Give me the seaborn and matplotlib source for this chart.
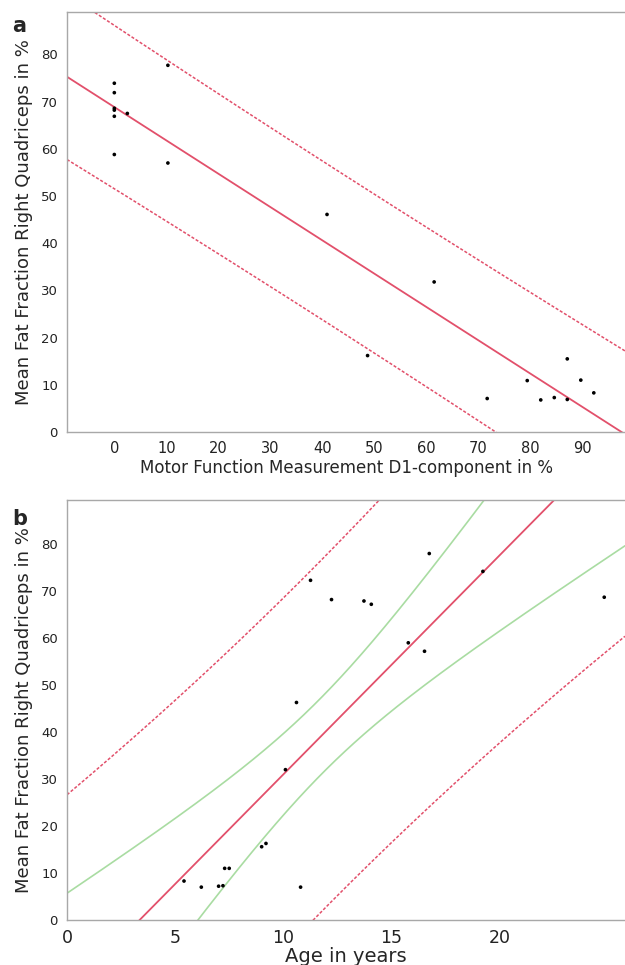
import numpy as np
import pandas as pd
import matplotlib
matplotlib.use("Agg")
import matplotlib.pyplot as plt
import seaborn as sns
from matplotlib.ticker import MultipleLocator

sns.set_style("white")
plt.rcParams["font.family"] = ["DejaVu Sans"]

# ── Data ──────────────────────────────────────────────────────────────────────
# panel a: motor function measurement D1 vs fat fraction
mfm_d1 = [0, 0, 0, 0, 0, 2.5, 0, 10.3, 10.3, 40.9,
          61.5, 48.7, 71.7, 79.4, 82.0, 84.6, 87.1, 87.1, 89.7, 92.2]
fat_a = [73.9, 71.9, 68.6, 68.2, 66.9, 67.5, 58.8, 77.7, 57.0, 46.1,
         31.8, 16.2, 7.1, 10.9, 6.8, 7.3, 15.5, 6.9, 11.0, 8.3]

# panel b: age vs fat fraction
age_years = [11.26, 12.23, 13.73, 14.07, 16.75, 19.23, 24.84, 15.78, 16.53, 10.61,
             10.1, 9.0, 9.2, 5.41, 6.21, 7.01, 7.21, 7.29, 7.5, 10.8]
fat_b = [72.3, 68.2, 67.9, 67.2, 78.0, 74.2, 68.7, 59.0, 57.2, 46.3,
         32.0, 15.6, 16.3, 8.3, 7.0, 7.2, 7.3, 11.0, 11.0, 7.0]

mfm_ticks = list(range(0, 100, 10))
age_ticks = [0, 5, 10, 15, 20]

df_a = pd.DataFrame({"mfm": mfm_d1, "fat": fat_a})
df_b = pd.DataFrame({"age": age_years, "fat": fat_b})

T_95 = 2.101  # t quantile, 18 degrees of freedom

RED = "#e2506b"
GREEN = "#a9dca2"
SPINE = "#a8a8a8"


def fit_bands(x, y, grid):
    # OLS fit with 95% confidence band (mean) and prediction band
    x = np.asarray(x, float)
    y = np.asarray(y, float)
    n = len(x)
    slope, icpt = np.polyfit(x, y, 1)
    resid = y - (icpt + slope * x)
    s = np.sqrt((resid ** 2).sum() / (n - 2))
    sxx = ((x - x.mean()) ** 2).sum()
    lev = 1 / n + (grid - x.mean()) ** 2 / sxx
    fit = icpt + slope * grid
    ci = T_95 * s * np.sqrt(lev)
    pi = T_95 * s * np.sqrt(1 + lev)
    return fit, ci, pi


def style_axes(ax):
    for side in ["left", "bottom", "top"]:
        ax.spines[side].set_color(SPINE)
        ax.spines[side].set_linewidth(1.0)
    ax.spines["right"].set_visible(False)
    ax.tick_params(which="both", direction="out", color=SPINE, length=3,
                   width=0.8, labelcolor="#222222")
    ax.tick_params(which="minor", length=2)
    ax.tick_params(axis="y", labelsize=9.5)


fig = plt.figure(figsize=(6.25, 9.65), dpi=100)
ax_a = fig.add_axes([0.1072, 0.5523, 0.8928, 0.4353])
ax_b = fig.add_axes([0.1072, 0.0466, 0.8928, 0.4353])

ylabel = "Mean Fat Fraction Right Quadriceps in %"

# ── Panel a ───────────────────────────────────────────────────────────────────
xlim_a = (-9.1, 98.2)
grid_a = np.linspace(*xlim_a, 300)
fit_a, ci_a, pi_a = fit_bands(df_a["mfm"], df_a["fat"], grid_a)
ax_a.plot(grid_a, fit_a, color=RED, lw=1.3)
ax_a.plot(grid_a, fit_a + pi_a, color=RED, lw=1.1, ls=(0, (2, 1.2)))
ax_a.plot(grid_a, fit_a - pi_a, color=RED, lw=1.1, ls=(0, (2, 1.2)))
sns.scatterplot(data=df_a, x="mfm", y="fat", ax=ax_a, color="black",
                s=7, edgecolor="none", zorder=5)
ax_a.set_xlim(*xlim_a)
ax_a.set_ylim(0, 89.0)
ax_a.set_xticks(mfm_ticks)
ax_a.yaxis.set_major_locator(MultipleLocator(10))
style_axes(ax_a)
ax_a.tick_params(axis="x", labelsize=10.5)
ax_a.set_xlabel("Motor Function Measurement D1-component in %", fontsize=12, labelpad=2)
ax_a.set_ylabel(ylabel, fontsize=13, labelpad=6)
fig.text(0.02, 0.983, "a", fontsize=15, fontweight="bold", va="top")

# ── Panel b ───────────────────────────────────────────────────────────────────
xlim_b = (0, 25.8)
grid_b = np.linspace(*xlim_b, 300)
fit_b, ci_b, pi_b = fit_bands(df_b["age"], df_b["fat"], grid_b)
ax_b.plot(grid_b, fit_b + ci_b, color=GREEN, lw=1.2)
ax_b.plot(grid_b, fit_b - ci_b, color=GREEN, lw=1.2)
ax_b.plot(grid_b, fit_b, color=RED, lw=1.3)
ax_b.plot(grid_b, fit_b + pi_b, color=RED, lw=1.1, ls=(0, (2, 1.2)))
ax_b.plot(grid_b, fit_b - pi_b, color=RED, lw=1.1, ls=(0, (2, 1.2)))
sns.scatterplot(data=df_b, x="age", y="fat", ax=ax_b, color="black",
                s=7, edgecolor="none", zorder=5)
ax_b.set_xlim(*xlim_b)
ax_b.set_ylim(0, 89.4)
ax_b.set_xticks(age_ticks)
ax_b.set_xticks([2.5, 7.5, 12.5, 17.5, 22.5], minor=True)
ax_b.yaxis.set_major_locator(MultipleLocator(10))
style_axes(ax_b)
ax_b.tick_params(axis="x", labelsize=12.5)
ax_b.set_xlabel("Age in years", fontsize=14, labelpad=0)
ax_b.set_ylabel(ylabel, fontsize=13, labelpad=6)
fig.text(0.02, 0.473, "b", fontsize=15, fontweight="bold", va="top")

fig.savefig("out.png", dpi=100)
